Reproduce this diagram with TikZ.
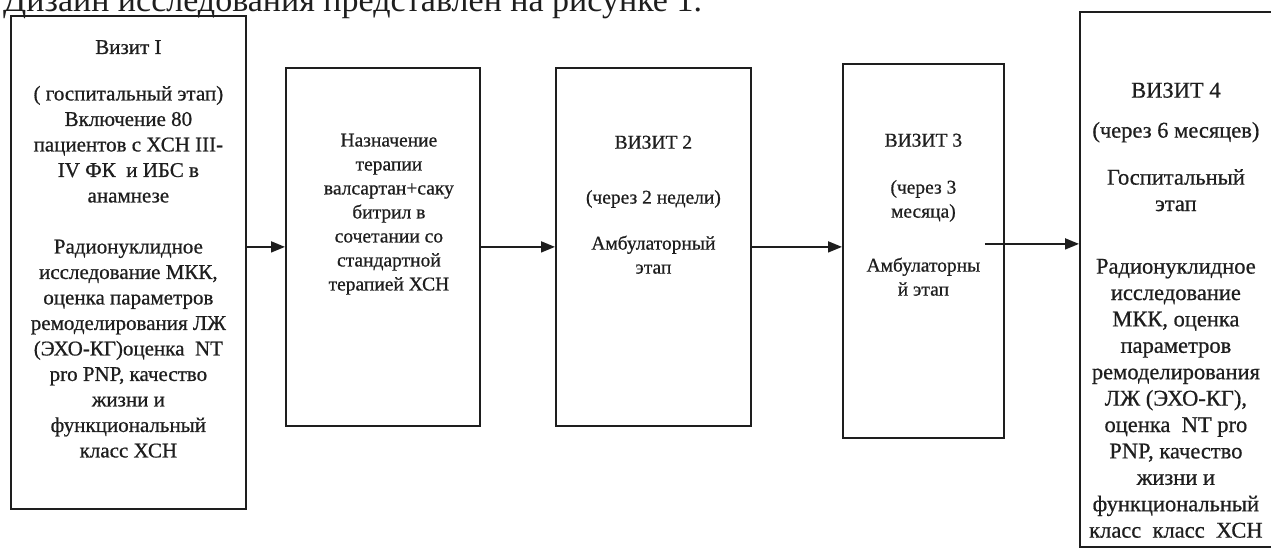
\documentclass[tikz,border=0pt]{standalone}
\usepackage{fontspec}
\setmainfont{Liberation Serif}
\newfontfamily\scanfont[FakeBold=0.7]{Liberation Serif}
\usetikzlibrary{arrows.meta,positioning}
\definecolor{ink}{HTML}{1E1E1E}
\tikzset{
	visitbox/.style={draw=ink, line width=1.8pt, inner sep=0pt, anchor=north west},
	visittext/.style={text=ink, align=center, inner sep=0pt, anchor=north},
	flow/.style={draw=ink, line width=1.8pt, -{Triangle[length=14pt,width=11pt]}}
}

\begin{document}
\begin{tikzpicture}[x=1pt,y=-1pt]
			\useasboundingbox (0,0) rectangle (1271,547);
			\clip (0,0) rectangle (1271,547);
			% heading of the page, cut at the top
			\node[text=ink, anchor=base west, inner sep=0pt, font=\fontsize{34}{40}\selectfont] (title) at (3,11) {Дизайн исследования представлен на рисунке 1.};
			% visits
			\node[visitbox, minimum width=235pt, minimum height=493pt] (v1) at (10,15) {};
			\node[visitbox, minimum width=194pt, minimum height=358pt] (v2) at (285,67) {};
			\node[visitbox, minimum width=195pt, minimum height=358pt] (v3) at (555,67) {};
			\node[visitbox, minimum width=161pt, minimum height=374pt] (v4) at (842,63) {};
			\node[visitbox, minimum width=200pt, minimum height=535pt] (v5) at (1079,11) {};
			\node[visittext, font=\scanfont\fontsize{21}{25.5}\selectfont, below=25pt of v1.north] (t1) {Визит I\\[21pt]( госпитальный этап)\\Включение 80\\пациентов с ХСН III-\\IV ФК~ и ИБС в\\анамнезе\\[25.5pt]Радионуклидное\\исследование МКК,\\оценка параметров\\ремоделирования ЛЖ\\(ЭХО-КГ)оценка~ NT\\pro PNP, качество\\жизни и\\функциональный\\класс ХСН};
			\node[visittext, font=\scanfont\fontsize{19.5}{24}\selectfont, below=66.5pt of v2.north, xshift=6pt] (t2) {Назначение\\терапии\\валсартан+саку\\битрил в\\сочетании со\\стандартной\\терапией ХСН};
			\node[visittext, font=\scanfont\fontsize{19.5}{24}\selectfont, below=68.5pt of v3.north] (t3) {ВИЗИТ 2\\[31pt](через 2 недели)\\[22pt]Амбулаторный\\этап};
			\node[visittext, font=\scanfont\fontsize{19.5}{24}\selectfont, below=70.5pt of v4.north] (t4) {ВИЗИТ 3\\[23pt](через 3\\месяца)\\[30pt]Амбулаторны\\й этап};
			\node[visittext, font=\scanfont\fontsize{22.5}{26.4}\selectfont, below=71.5pt of v5.north, xshift=-4pt] (t5) {ВИЗИТ 4\\[13.6pt](через 6 месяцев)\\[20.6pt]Госпитальный\\этап\\[36.2pt]Радионуклидное\\исследование\\МКК, оценка\\параметров\\ремоделирования\\ЛЖ (ЭХО-КГ),\\оценка~ NT pro\\PNP, качество\\жизни и\\функциональный\\класс~ класс~ ХСН};
			% arrows
			\draw[flow] (v1.east |- v2.west) -- (v2.west);
			\draw[flow] (v2.east) -- (v3.west);
			\draw[flow] (v3.east) -- (v3.east -| v4.west);
			\coordinate (a4s) at ([xshift=-20pt,yshift=7pt]v4.east);
			\draw[flow] (a4s) -- (a4s -| v5.west);
\end{tikzpicture}
\end{document}
